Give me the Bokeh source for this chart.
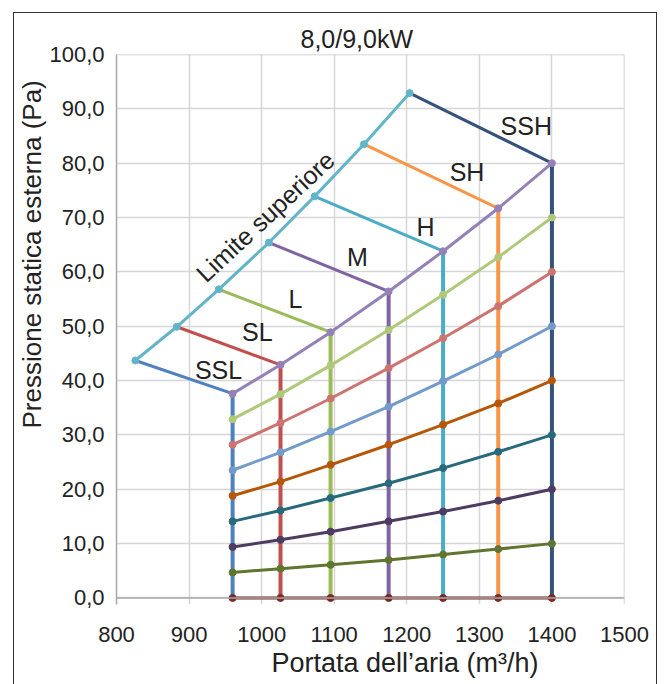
from bokeh.plotting import figure
from bokeh.models import (FixedTicker, CustomJSTickFormatter, Label, Range1d, Span, Title,
                          InlineStyleSheet)
from bokeh.embed import file_html
from bokeh.resources import INLINE

# ---------------- data ----------------
flow = [960, 1026, 1095, 1175, 1250, 1326, 1400]          # m3/h, one per fan speed
speeds = ["SSL", "SL", "L", "M", "H", "SH", "SSH"]
p0 = [0, 0, 0, 0, 0, 0, 0]
p10 = [4.7, 5.4, 6.1, 7.0, 8.0, 9.0, 10.0]
p20 = [9.4, 10.7, 12.2, 14.1, 15.9, 17.9, 20.0]
p30 = [14.1, 16.1, 18.4, 21.1, 23.9, 26.9, 30.0]
p40 = [18.8, 21.4, 24.5, 28.2, 31.9, 35.8, 40.0]
p50 = [23.5, 26.8, 30.6, 35.2, 39.9, 44.8, 50.0]
p60 = [28.2, 32.2, 36.7, 42.3, 47.8, 53.7, 60.0]
p70 = [32.9, 37.5, 42.8, 49.3, 55.8, 62.7, 70.0]
p80 = [37.6, 42.9, 48.9, 56.4, 63.8, 71.7, 80.0]
limit_x = [826, 883, 941, 1010, 1073, 1141, 1204]
limit_y = [43.7, 49.9, 56.8, 65.4, 73.9, 83.5, 92.9]
x_ticks = [800, 900, 1000, 1100, 1200, 1300, 1400, 1500]
y_ticks = [0, 10, 20, 30, 40, 50, 60, 70, 80, 90, 100]

curves = [p0, p10, p20, p30, p40, p50, p60, p70, p80]
curve_colors = ["#772C2A", "#5F7530", "#4D3B62", "#276A7C", "#B65708",
                "#729ACA", "#CD7371", "#AFC97A", "#9381B8"]
speed_colors = ["#4F81BD", "#C0504D", "#9BBB59", "#8064A2", "#4BACC6", "#F79646", "#34527A"]
limit_color = "#62B5C8"

FONT = "Liberation Sans"
TXT = "#222222"

border_css = InlineStyleSheet(css="""
:host::after {
  content: '';
  position: absolute;
  left: 13px; top: 12px; right: 3px; bottom: -4px;
  border: 1.5px solid #333333;
  border-bottom: none;
  pointer-events: none;
  z-index: 10;
}
""")

p = figure(width=660, height=684, output_backend="svg", toolbar_location=None,
           x_range=Range1d(800, 1500), y_range=Range1d(-1.2, 100),
           min_border_left=116, min_border_right=36, min_border_top=54, min_border_bottom=80,
           stylesheets=[border_css])

p.outline_line_color = None
p.xgrid.grid_line_color = "#D6D6D6"
p.ygrid.grid_line_color = "#D6D6D6"
p.xgrid.grid_line_width = 1.5
p.ygrid.grid_line_width = 1.5

p.xaxis.ticker = FixedTicker(ticks=x_ticks)
p.yaxis.ticker = FixedTicker(ticks=y_ticks)
p.yaxis.formatter = CustomJSTickFormatter(code="return tick.toFixed(1).replace('.', ',');")
for ax in (p.xaxis, p.yaxis):
    ax.axis_line_color = "#A8A8A8"
    ax.axis_line_width = 1.5
    ax.major_tick_line_color = None
    ax.minor_tick_line_color = None
    ax.major_label_text_font = FONT
    ax.major_label_text_font_size = "22px"
    ax.major_label_text_color = TXT
p.xaxis.axis_line_color = None
p.xaxis.major_label_standoff = 16
p.yaxis.major_label_standoff = 6

# frame lines (x axis at 0, top and right edges)
p.add_layout(Span(location=0, dimension="width", line_color="#A8A8A8", line_width=1.5))
p.add_layout(Span(location=100, dimension="width", line_color="#C8C8C8", line_width=1.5))
p.add_layout(Span(location=1500, dimension="height", line_color="#C8C8C8", line_width=1.5))

# vertical speed lines
for i in range(len(flow)):
    p.line([flow[i], flow[i]], [p0[i], p80[i]], line_color=speed_colors[i], line_width=4)

# speed boundary lines from the upper limit to the 80 Pa curve
for i in range(len(flow)):
    p.line([limit_x[i], flow[i]], [limit_y[i], p80[i]], line_color=speed_colors[i], line_width=3)

# upper limit
p.line(limit_x, limit_y, line_color=limit_color, line_width=3)
p.scatter(limit_x, limit_y, size=7, color=limit_color)

# pressure curves
for vals, c in zip(curves, curve_colors):
    p.line(flow, vals, line_color=c, line_width=3)
    p.scatter(flow, vals, size=7, color=c)

# speed labels
lab_x = [940.6, 994, 1046.7, 1132, 1225.8, 1283, 1364.6]
lab_y = [41.9, 49.0, 55.0, 62.8, 68.2, 78.3, 86.9]
for s, lx, ly in zip(speeds, lab_x, lab_y):
    p.add_layout(Label(x=lx, y=ly, text=s, text_font=FONT, text_font_size="25px",
                       text_color=TXT, text_align="center", text_baseline="middle"))

p.add_layout(Label(x=1005, y=70.2, text="Limite superiore", angle=0.75,
                   text_font=FONT, text_font_size="25px", text_color=TXT,
                   text_align="center", text_baseline="middle"))

# title and axis titles (as side titles so they can be placed freely)
p.title.text = "8,0/9,0kW"
p.title.align = "left"
p.title.offset = 184
p.title.text_font = FONT
p.title.text_font_size = "25px"
p.title.text_font_style = "normal"
p.title.text_color = TXT
p.title.standoff = 4

xt = Title(text="Portata dell\u2019aria (m\u00b3/h)", align="left", offset=155,
           text_font=FONT, text_font_size="27px", text_font_style="normal",
           text_color=TXT, standoff=2)
p.add_layout(xt, "below")

yt = Title(text="Pressione statica esterna (Pa)", align="left", offset=176,
           text_font=FONT, text_font_size="26px", text_font_style="normal",
           text_color=TXT, standoff=0)
p.add_layout(yt, "left")

open("out.html", "w").write(file_html(p, INLINE))
